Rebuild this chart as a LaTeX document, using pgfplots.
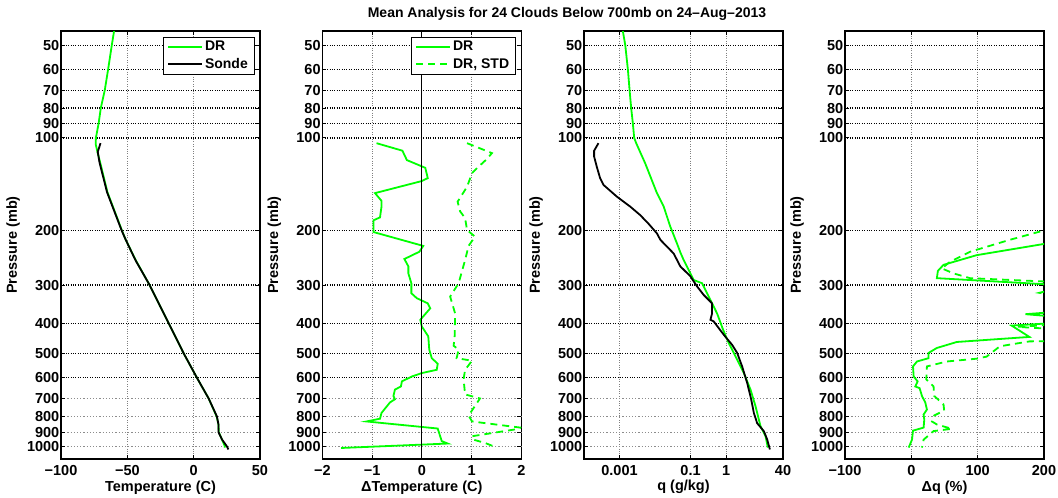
\documentclass[border=0pt]{standalone}
\usepackage{fontspec}
\setmainfont{Liberation Sans}
\usepackage{pgfplots}
\pgfplotsset{compat=1.18}
\definecolor{mgreen}{rgb}{0,1,0}
\newcommand{\mbf}{\bfseries\fontsize{14.5}{15}\selectfont}
\newcommand{\lbf}{\bfseries\fontsize{14}{15}\selectfont}
\tikzset{
  dr/.style={mgreen, line width=1.8pt},
  drs/.style={mgreen, line width=1.8pt, dash pattern=on 7pt off 5pt},
  sonde/.style={black, line width=1.8pt},
}
\pgfplotsset{
  panel/.style={
    scale only axis, width=199pt, height=428pt, anchor=south west,
    y dir=reverse, ymin=45, ymax=1100,
    ytick={50,60,70,80,90,100,200,300,400,500,600},
    yticklabels={50,60,70,80,90,100,200,300,400,500,600},
    extra y ticks={700,800,900,1000},
    extra y tick labels={700,800,900,1000},
    extra y tick style={major y grid style={black!45, dotted, line width=1pt}},
    yminorticks=false, xminorticks=false,
    ymajorgrids, xmajorgrids,
    major y grid style={black, dotted, line width=1.2pt},
    major x grid style={black!50, dotted, line width=0.9pt},
    tick align=inside, major tick length=4pt,
    every tick/.style={black, line width=1pt},
    axis line style={line width=1.3pt},
    tick label style={font=\mbf},
    yticklabel style={inner sep=1.5pt},
    xticklabel style={yshift=-3pt},
    label style={font=\mbf},
    ylabel={Pressure (mb)},
    ylabel style={at={(axis description cs:-0.241,0.5)}, anchor=center},
    xlabel style={at={(axis description cs:0.5,-0.066)}, anchor=center},
    legend style={font=\lbf, draw=black, fill=white,
      inner xsep=4pt, inner ysep=2.5pt, row sep=2pt, cells={anchor=west}},
    legend cell align=left,
  },
  legend image code/.code={\draw[#1] (0pt,0pt) -- (34pt,0pt);},
}
\begin{document}
\begin{tikzpicture}
\useasboundingbox (0pt,0pt) rectangle (1058pt,498pt);
% Panel 1
\begin{axis}[ymode=log, panel, at={(61pt,39pt)},
  xmin=-100, xmax=50, xtick={-100,-50,0,50}, xticklabels={−100,−50,0,50},
  xlabel={Temperature (C)},
  legend style={at={(rel axis cs:0.97,0.987)}, anchor=north east}]
\addplot[dr] coordinates {(-60,45) (-61.7,50) (-64.5,60) (-67,70) (-70,80) (-71.7,90)
 (-73.7,100) (-73.8,105) (-72.3,112) (-70.5,120) (-65,150) (-54,200) (-51.2,214)
 (-43.5,250) (-33.2,300) (-25.5,350) (-18.7,400) (-7.5,500) (2.5,600) (11.3,700)
 (17.3,800) (18.7,850) (18.9,900) (21.3,950) (23.5,1000) (23.2,1010)};
\addplot[sonde] coordinates {(-70.2,104) (-72.3,111) (-71,120) (-65.3,150) (-54.2,200)
 (-51.2,214) (-43.7,250) (-33.2,300) (-25.5,350) (-18.7,400) (-7.5,500) (2.5,600)
 (11.3,700) (17.5,800) (18.7,850) (18.7,900) (21.3,950) (25,1000) (26.2,1024)};
\legend{DR,Sonde}
\end{axis}
% Panel 2
\begin{axis}[ymode=log, panel, at={(322.3pt,39pt)},
  xmin=-2, xmax=2, xtick={-2,-1,0,1,2}, xticklabels={−2,−1,0,1,2},
  xlabel={ΔTemperature (C)},
  legend style={at={(rel axis cs:0.97,0.987)}, anchor=north east}]
\addplot[dr] coordinates {(-0.91,104) (-0.39,110) (-0.30,118) (0.07,125) (0.12,135)
 (0,138) (-0.94,151) (-0.81,160) (-0.81,167) (-0.84,181) (-0.97,185) (-0.97,202)
 (0.03,224) (-0.05,234) (-0.35,247) (-0.27,261) (-0.27,275) (-0.21,296) (-0.21,319)
 (-0.10,331) (0.12,344) (0.17,357) (-0.03,389) (0,409) (0.13,440) (0.15,486)
 (0.2,518) (0.32,540) (0.30,565) (0,579) (-0.2,594) (-0.4,616) (-0.42,640)
 (-0.54,655) (-0.57,687) (-0.54,704) (-0.64,721) (-0.81,780) (-0.84,814)
 (-1.11,831) (0.32,876) (0.40,962) (0.52,980) (-1.62,1013)};
\addplot[drs] coordinates {(0.91,104) (1.41,112) (1.31,117) (1.14,124) (1.01,130)
 (0.91,144) (0.72,161) (0.77,173) (0.87,182) (0.91,199) (1.07,209) (0.94,224)
 (0.87,249) (0.74,296) (0.57,327) (0.67,371) (0.66,440) (0.64,472) (0.74,486)
 (0.70,518) (1.01,528) (0.87,565) (0.84,607) (0.87,679) (1.17,700) (0.94,795)
 (1.01,831) (1.98,870) (1.95,878) (1.01,928) (1.04,952) (1.28,977) (1.51,1010)};
\addplot[black, line width=1pt, forget plot] coordinates {(0,40) (0,1200)};
\legend{DR,{DR, STD}}
\end{axis}
% Panel 3
\begin{axis}[ymode=log, xmode=log, panel, at={(584pt,39pt)},
  xmin=0.0001, xmax=40, xtick={0.001,0.1,1,40}, xticklabels={0.001,0.1,1,40},
  xlabel={q (g/kg)}]
\addplot[dr] coordinates {(0.00124,45) (0.00145,50) (0.00172,60) (0.00192,70)
 (0.00213,80) (0.00238,90) (0.00259,100) (0.00295,104) (0.0053,121) (0.0113,151)
 (0.0175,167) (0.0269,194) (0.0415,220) (0.0515,235) (0.064,249) (0.0986,275)
 (0.123,289) (0.211,296) (0.292,319) (0.558,371) (0.824,419) (1.19,463) (1.65,498)
 (3.16,579) (4.87,655) (6.75,742) (9.3,860) (12.9,928) (15,1010)};
\addplot[sonde] coordinates {(0.000255,104) (0.000193,110) (0.000193,115)
 (0.000229,124) (0.000284,135) (0.000353,142) (0.00084,155) (0.002,167)
 (0.00383,178) (0.0066,190) (0.0113,204) (0.0141,214) (0.0334,237) (0.0515,261)
 (0.0986,281) (0.152,303) (0.234,323) (0.403,344) (0.403,371) (0.363,389)
 (0.45,394) (0.861,435) (1.48,469) (2.05,498) (2.83,551) (3.92,623) (5.08,704)
 (6.05,780) (7.5,842) (11.6,894) (14.4,952) (17.1,1024)};
\end{axis}
% Panel 4
\begin{axis}[ymode=log, panel, at={(845pt,39pt)},
  xmin=-100, xmax=200, xtick={-100,0,100,200}, xticklabels={−100,0,100,200},
  xlabel={Δq (\%)}]
\addplot[dr] coordinates {(250,212) (198.5,221) (98.5,240) (48.5,258) (40,270)
 (38.5,285) (198.5,298) (240,310) (230,365) (172,373) (230,382) (220,398)
 (151,406) (178,442) (68.5,459) (38.5,480) (26,498) (26,518) (8.5,531) (2.5,551)
 (3.5,594) (9.5,616) (6,640) (12.5,648) (16,687) (21,721) (23.5,760) (18.5,789)
 (19.5,820) (18.5,870) (2.5,890) (1,952) (-4,1010)};
\addplot[drs] coordinates {(230,195) (198.5,200) (148.5,214) (88.5,234) (58.5,252)
 (46,265) (63.5,275) (88.5,285) (198.5,292) (240,300) (193,318) (240,330)
 (240,400) (160,410) (240,420) (240,455) (178,457) (133.5,474) (113.5,512)
 (98.5,520) (53.5,531) (23.5,551) (22.5,607) (33.5,640) (34.5,687) (48.5,732)
 (49.5,766) (34.5,795) (31,831) (38.5,850) (61,878) (33.5,893) (18.5,952)
 (16,1010)};
\end{axis}
\node[font=\bfseries\fontsize{14}{15}\selectfont] at (567pt,484pt) {Mean Analysis for 24 Clouds Below 700mb on 24–Aug–2013};
\end{tikzpicture}
\end{document}
